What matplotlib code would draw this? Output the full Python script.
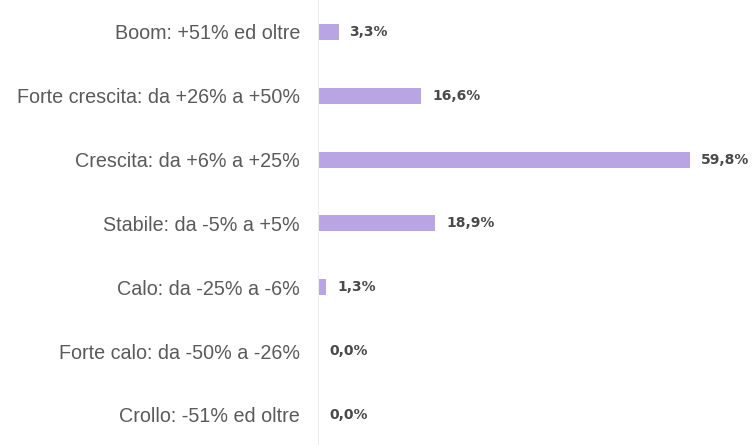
import matplotlib
matplotlib.use("Agg")
import matplotlib.pyplot as plt

categories = ["Boom: +51% ed oltre",
              "Forte crescita: da +26% a +50%",
              "Crescita: da +6% a +25%",
              "Stabile: da -5% a +5%",
              "Calo: da -25% a -6%",
              "Forte calo: da -50% a -26%",
              "Crollo: -51% ed oltre"]
values = [3.3, 16.6, 59.8, 18.9, 1.3, 0.0, 0.0]

fig = plt.figure(figsize=(7.55, 4.45), dpi=100)
ax = fig.add_axes([318 / 755, 0, 437 / 755, 1])

pos = list(range(len(values)))
ax.barh(pos, values, height=0.25, color="#b9a4e4", edgecolor="none")
ax.set_xlim(0, 70.3)
ax.set_ylim(6.47, -0.50)

for y, v in zip(pos, values):
    ax.annotate(f"{v:.1f}%".replace(".", ","), (v, y), xytext=(8, 0),
                textcoords="offset points", va="center", ha="left",
                fontsize=10, fontweight="bold", color="#4a4a4a",
                family=["DejaVu Sans"])

ax.set_yticks(pos)
ax.set_yticklabels(categories, fontsize=14.2, color="#5a5a5a",
                   family=["Liberation Sans", "DejaVu Sans"])
ax.tick_params(axis="y", length=0, pad=13)
ax.set_xticks([])
for s in ["top", "right", "bottom"]:
    ax.spines[s].set_visible(False)
ax.spines["left"].set_color("#eeeeee")

fig.savefig("out.png", dpi=100)
